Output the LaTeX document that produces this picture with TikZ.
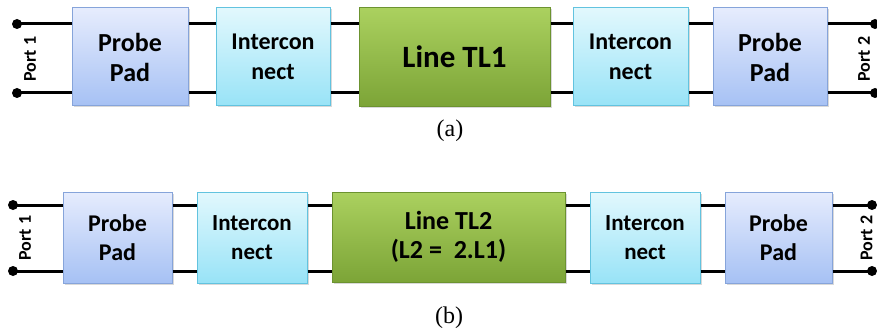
\documentclass[tikz,border=0pt]{standalone}
\usepackage{fontspec}
\setmainfont{Carlito}
\newfontfamily\capfont{Liberation Serif}
\usetikzlibrary{shadows}
\definecolor{ppTop}{HTML}{E6ECFD}
\definecolor{ppBot}{HTML}{A6C1F4}
\definecolor{ppBd}{HTML}{86A4DA}
\definecolor{icTop}{HTML}{E2F8FD}
\definecolor{icBot}{HTML}{98E3F7}
\definecolor{icBd}{HTML}{62C3DF}
\definecolor{tlTop}{HTML}{ABD15F}
\definecolor{tlBot}{HTML}{7CA437}
\definecolor{tlBd}{HTML}{6C9330}
\tikzset{
  box/.style={draw, line width=1pt, inner sep=0pt, align=center,
    drop shadow={opacity=0.3, shadow xshift=1.5pt, shadow yshift=-1.5pt}},
  pad/.style={box, draw=ppBd, top color=ppTop, bottom color=ppBot},
  icn/.style={box, draw=icBd, top color=icTop, bottom color=icBot},
  tline/.style={box, draw=tlBd, top color=tlTop, bottom color=tlBot},
  wire/.style={line width=3pt},
  portlbl/.style={rotate=90, inner sep=0pt, font=\bfseries\fontsize{18}{20}\selectfont},
  caplbl/.style={inner sep=0pt, font=\capfont\fontsize{24}{26}\selectfont}
}
\begin{document}
\begin{tikzpicture}[x=1pt,y=-1pt]
\useasboundingbox (0,0) rectangle (877,334);
% ---------- (a) ----------
\coordinate (aLT) at (17,24);
\coordinate (aLB) at (17,93);
\coordinate (aRT) at (875,24);
\coordinate (aRB) at (875,93);
\node[pad, minimum width=116pt, minimum height=98pt, font=\bfseries\fontsize{26}{30}\selectfont] (pp1) at (130,57) {Probe\\Pad};
\node[icn, minimum width=114pt, minimum height=98pt, font=\bfseries\fontsize{24}{30}\selectfont] (ic1) at (273,57) {Intercon\\nect};
\node[tline, minimum width=191pt, minimum height=99pt, font=\bfseries\fontsize{31}{34}\selectfont] (tl1) at (454.5,57) {Line TL1};
\node[icn, minimum width=115pt, minimum height=98pt, font=\bfseries\fontsize{24}{30}\selectfont] (ic2) at (630.5,57) {Intercon\\nect};
\node[pad, minimum width=114pt, minimum height=98pt, font=\bfseries\fontsize{26}{30}\selectfont] (pp2) at (770,57) {Probe\\Pad};
\foreach \y in {aLT,aLB}{
  \draw[wire] (\y) -- (pp1.west |- \y);
  \draw[wire] (pp1.east |- \y) -- (ic1.west |- \y);
  \draw[wire] (ic1.east |- \y) -- (tl1.west |- \y);
  \draw[wire] (tl1.east |- \y) -- (ic2.west |- \y);
  \draw[wire] (ic2.east |- \y) -- (pp2.west |- \y);
}
\draw[wire] (pp2.east |- aRT) -- (aRT);
\draw[wire] (pp2.east |- aRB) -- (aRB);
\foreach \c in {aLT,aLB,aRT,aRB} \fill (\c) circle (5pt);
\node[portlbl] (port1a) at (30,59) {Port 1};
\node[portlbl] (port2a) at (864,59) {Port 2};
\node[caplbl] (capa) at (450,131) {(a)};
% ---------- (b) ----------
\coordinate (bLT) at (13,205);
\coordinate (bLB) at (13,271);
\coordinate (bRT) at (872,205);
\coordinate (bRB) at (872,271);
\node[pad, minimum width=109pt, minimum height=91pt, font=\bfseries\fontsize{24}{29}\selectfont] (pp3) at (117.5,237.5) {Probe\\Pad};
\node[icn, minimum width=110pt, minimum height=91pt, font=\bfseries\fontsize{23}{29}\selectfont] (ic3) at (252,237.5) {Intercon\\nect};
\node[tline, minimum width=233pt, minimum height=90pt, font=\bfseries\fontsize{26}{29.5}\selectfont] (tl2) at (448.5,237) {Line TL2\\(L2 =~~2.L1)};
\node[icn, minimum width=110pt, minimum height=91pt, font=\bfseries\fontsize{23}{29}\selectfont] (ic4) at (645,237.5) {Intercon\\nect};
\node[pad, minimum width=107pt, minimum height=91pt, font=\bfseries\fontsize{24}{29}\selectfont] (pp4) at (778.5,237.5) {Probe\\Pad};
\foreach \y in {bLT,bLB}{
  \draw[wire] (\y) -- (pp3.west |- \y);
  \draw[wire] (pp3.east |- \y) -- (ic3.west |- \y);
  \draw[wire] (ic3.east |- \y) -- (tl2.west |- \y);
  \draw[wire] (tl2.east |- \y) -- (ic4.west |- \y);
  \draw[wire] (ic4.east |- \y) -- (pp4.west |- \y);
}
\draw[wire] (pp4.east |- bRT) -- (bRT);
\draw[wire] (pp4.east |- bRB) -- (bRB);
\foreach \c in {bLT,bLB,bRT,bRB} \fill (\c) circle (5pt);
\node[portlbl] (port1b) at (25,238) {Port 1};
\node[portlbl] (port2b) at (866.5,238) {Port 2};
\node[caplbl] (capb) at (449,318) {(b)};
\end{tikzpicture}
\end{document}
